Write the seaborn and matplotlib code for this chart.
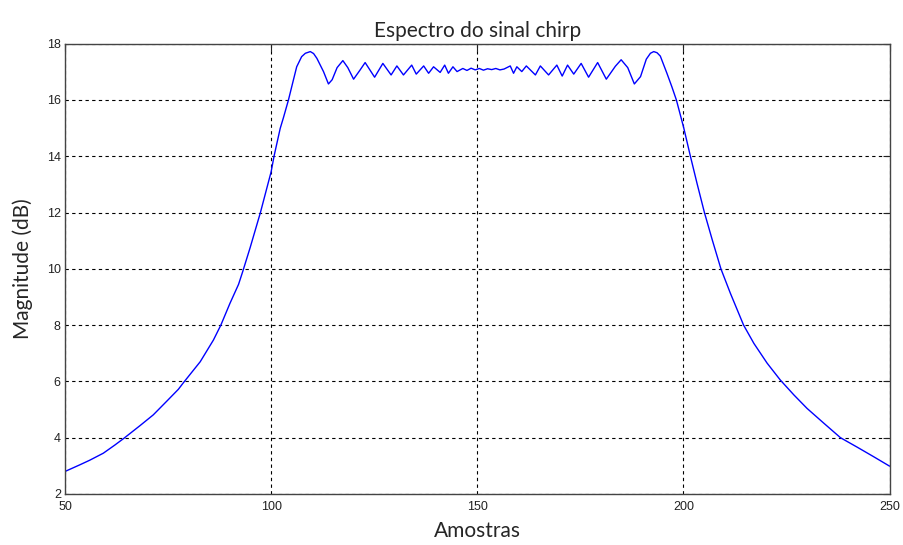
import seaborn as sns
import pandas as pd
import matplotlib.pyplot as plt

# values
amostras = [50, 53.5, 56, 59.3, 62.1, 64.3, 68.2, 71.4, 74.7, 77.5, 78.7, 82.8, 86.0,
            87.8, 90.0, 92.1, 93.1, 94.9, 97.4, 100, 100.7, 102.2, 103.0,
            104.2, 105.4, 106.2, 107.4, 108.3, 109.5, 110.3, 111.1, 112.7, 113.9,
            114.8, 116.0, 117.4, 118.6, 120.0, 121.5, 122.8, 125.1, 127.1, 129.1,
            130.5, 132.1, 134.1, 135.2, 137.0, 138.2, 139.4, 141.0, 142.1, 143.0,
            144.1, 145.1, 146.5, 147.5, 148.5, 149.5, 150.5, 151.5, 152.5, 153.5,
            154.5, 155.5, 156.5, 158.0, 158.8, 159.6, 160.8, 161.9, 164.1, 165.3,
            167.3, 169.3, 170.6, 171.9, 173.4, 175.2, 177.0, 179.2, 181.3, 183.5,
            184.9, 186.5, 188.1, 189.6, 191.0, 192.0, 192.8, 193.6, 194.4, 196.0,
            197.2, 198.3, 200.1, 201.7, 203.3, 205.1, 207.0, 209.1, 211.4, 214.6,
            217.1, 220.3, 223.5, 226.8, 230.0, 234.1, 238.1, 242.2, 246.2, 250]
magnitude_db = [2.80, 3.03, 3.20, 3.45, 3.74, 3.98, 4.43, 4.81, 5.30, 5.72, 5.95, 6.70,
                7.47, 8.00, 8.77, 9.45, 9.90, 10.75, 12.00, 13.45, 14.00,
                14.99, 15.38, 16.00, 16.71, 17.18, 17.54, 17.66, 17.72, 17.65, 17.48,
                17.01, 16.57, 16.72, 17.15, 17.40, 17.15, 16.74, 17.05, 17.33, 16.81,
                17.30, 16.89, 17.21, 16.89, 17.24, 16.92, 17.21, 16.95, 17.18, 16.98,
                17.24, 16.95, 17.18, 17.01, 17.12, 17.05, 17.13, 17.07, 17.12, 17.06,
                17.11, 17.08, 17.12, 17.07, 17.10, 17.21, 16.95, 17.18, 17.01, 17.21,
                16.89, 17.21, 16.89, 17.24, 16.85, 17.24, 16.92, 17.30, 16.81, 17.33,
                16.74, 17.20, 17.43, 17.15, 16.57, 16.83, 17.45, 17.66, 17.72, 17.68,
                17.56, 16.95, 16.47, 16.00, 15.00, 14.00, 13.04, 12.00, 11.03, 10.00,
                9.13, 8.00, 7.35, 6.65, 6.05, 5.52, 5.04, 4.51, 4.00, 3.66, 3.32, 2.99]

x_ticks = [50, 100, 150, 200, 250]
y_ticks = [2, 4, 6, 8, 10, 12, 14, 16, 18]

df = pd.DataFrame({'Amostras': amostras, 'Magnitude': magnitude_db})

sns.set_style("white")
plt.rcParams['font.family'] = ['Liberation Sans', 'DejaVu Sans']

fig = plt.figure(figsize=(9.04, 5.45), dpi=100)
ax = fig.add_axes([0.0719, 0.0936, 0.9121, 0.8262])

sns.lineplot(data=df, x='Amostras', y='Magnitude', color='blue', linewidth=1.0, ax=ax)

ax.set_xlim(50, 250)
ax.set_ylim(2, 18)
ax.set_xticks(x_ticks)
ax.set_yticks(y_ticks)
ax.grid(True, color='black', linestyle=(0, (3, 3)), linewidth=0.8)
ax.tick_params(direction='in', length=5, top=True, right=True, labelsize=9,
               colors='#222222')
ax.tick_params(axis='x', pad=5)
ax.tick_params(axis='y', pad=3)
for s in ax.spines.values():
    s.set_color('#444444')
    s.set_linewidth(1.0)

ax.set_title('Espectro do sinal chirp', fontsize=15, family=['Lato', 'DejaVu Sans'], pad=5)
ax.set_xlabel('Amostras', fontsize=15, family=['Lato', 'DejaVu Sans'], labelpad=6)
ax.set_ylabel('Magnitude (dB)', fontsize=15, family=['Lato', 'DejaVu Sans'], labelpad=10)

fig.savefig('out.png', dpi=100)
